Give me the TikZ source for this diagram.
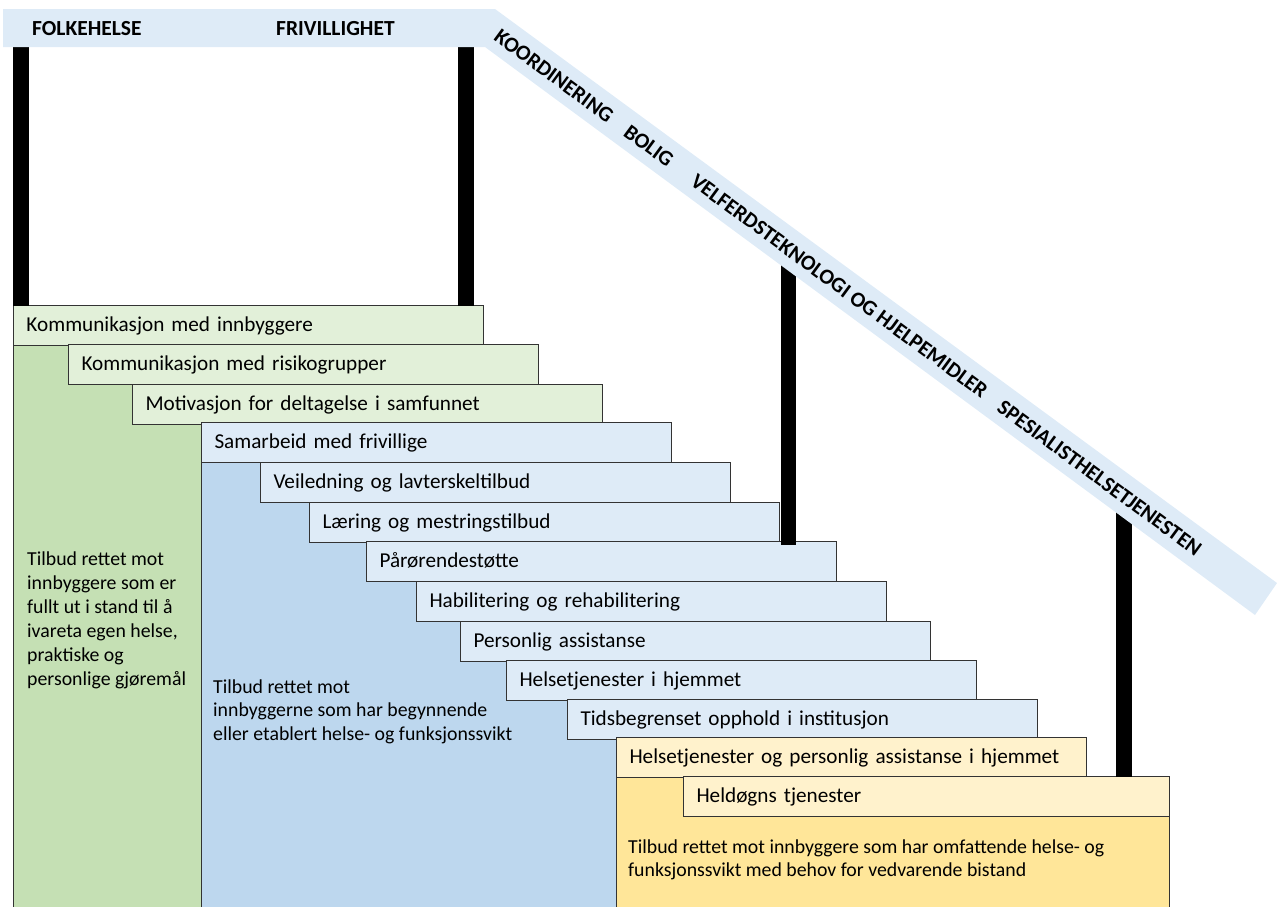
\documentclass[tikz,border=0pt]{standalone}
\usepackage{fontspec}
\setmainfont{Carlito}
\usepackage{tikz}

\definecolor{bandblue}{HTML}{DEEBF7}
\definecolor{stepgreen}{HTML}{E2F0D9}
\definecolor{stepblue}{HTML}{DEEBF7}
\definecolor{stepyellow}{HTML}{FFF2CC}
\definecolor{areagreen}{HTML}{C5E0B4}
\definecolor{areablue}{HTML}{BDD7EE}
\definecolor{areagold}{HTML}{FFE699}

\begin{document}
\begin{tikzpicture}[x=1pt,y=-1pt]
		% Define styles for the steps, the band labels and the area texts
		\tikzset{stepbox/.style={draw=black!80, line width=1pt, anchor=north west, minimum width=470pt, minimum height=39.5pt, inner xsep=13pt, inner ysep=0pt, text width=444pt, align=left, text height=15pt, text depth=2pt, font=\fontsize{21.2}{25}\selectfont}}
		\tikzset{bandlabel/.style={font=\bfseries\fontsize{21.5}{25}\selectfont, inner sep=0pt, anchor=base west}}
		\tikzset{areatext/.style={font=\fontsize{19.8}{23.6}\selectfont, align=left, inner sep=0pt, anchor=base west}}
		
		% Fix the size of the picture
		\useasboundingbox (0,0) rectangle (1277,906);
		\clip (0,0) rectangle (1277,906);
		
		% Draw the three large areas under the steps
		\draw[fill=areagreen, draw=black!80, line width=1pt] (13,330) rectangle (201,920);
		\draw[fill=areablue, draw=black!80, line width=1pt] (201,450) rectangle (616,920);
		\draw[fill=areagold, draw=black!80, line width=1pt] (616,776) rectangle (1169,920);
		
		% Add the area texts (placed at the baseline of their last line)
		\node[areatext, font=\fontsize{19.8}{24}\selectfont] (greentext) at (27,685.5) {Tilbud rettet mot\\innbyggere som er\\fullt ut i stand til å\\ivareta egen helse,\\praktiske og\\personlige gjøremål};
		\node[areatext, font=\fontsize{19.8}{23.3}\selectfont] (bluetext) at (213,740) {Tilbud rettet mot\\innbyggerne som har begynnende\\eller etablert helse- og funksjonssvikt};
		\node[areatext, font=\fontsize{19.8}{23.3}\selectfont] (goldtext) at (628,876.7) {Tilbud rettet mot innbyggere som har omfattende helse- og\\funksjonssvikt med behov for vedvarende bistand};
		
		% Draw the steps
		\node[stepbox, fill=stepgreen] (step1) at (13,305) {Kommunikasjon med innbyggere};
		\node[stepbox, fill=stepgreen] (step2) at (68,344) {Kommunikasjon med risikogrupper};
		\node[stepbox, fill=stepgreen] (step3) at (132,384) {Motivasjon for deltagelse i samfunnet};
		\node[stepbox, fill=stepblue] (step4) at (201,422) {Samarbeid med frivillige};
		\node[stepbox, fill=stepblue] (step5) at (260,462) {Veiledning og lavterskeltilbud};
		\node[stepbox, fill=stepblue] (step6) at (309,502) {Læring og mestringstilbud};
		\node[stepbox, fill=stepblue] (step7) at (366,541) {Pårørendestøtte};
		\node[stepbox, fill=stepblue] (step8) at (416,581) {Habilitering og rehabilitering};
		\node[stepbox, fill=stepblue] (step9) at (460,621) {Personlig assistanse};
		\node[stepbox, fill=stepblue] (step10) at (506,660) {Helsetjenester i hjemmet};
		\node[stepbox, fill=stepblue] (step11) at (567,699) {Tidsbegrenset opphold i institusjon};
		\node[stepbox, fill=stepyellow] (step12) at (616,737) {Helsetjenester og personlig assistanse i hjemmet};
		\node[stepbox, fill=stepyellow, minimum width=486pt, text width=460pt] (step13) at (683,776) {Heldøgns tjenester};
		
		% Draw the pillars
		\fill (13,45) rectangle (29,306);
		\fill (458,45) rectangle (474,306);
		\fill (781,255) rectangle (796,545);
		\fill (1116,500) rectangle (1132,777);
		
		% Draw the band on top
		\fill[bandblue] (3,9) -- (495,9) -- (1277,583) -- (1255,615) -- (485,47) -- (3,47) -- cycle;
		
		% Add the band labels
		\node[bandlabel] (folkehelse) at (32,35.7) {FOLKEHELSE};
		\node[bandlabel] (frivillighet) at (276,35.7) {FRIVILLIGHET};
		\node[bandlabel, rotate=-36.35] (koordinering) at (492.7,39.5) {KOORDINERING};
		\node[bandlabel, rotate=-36.35] (bolig) at (622.3,135.0) {BOLIG};
		\node[bandlabel, rotate=-36.35] (velferd) at (689.1,184.2) {VELFERDSTEKNOLOGI OG HJELPEMIDLER};
		\node[bandlabel, rotate=-36.35] (spesialist) at (995.8,410.2) {SPESIALISTHELSETJENESTEN};
	\end{tikzpicture}
\end{document}
